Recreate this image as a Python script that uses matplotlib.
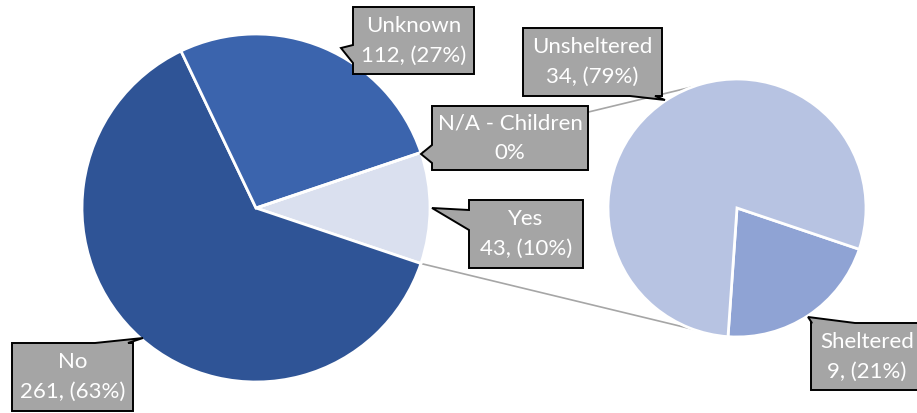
import matplotlib.pyplot as plt
from matplotlib.patches import Polygon
import numpy as np

# main pie
main_labels = ["Yes", "No", "Unknown", "N/A - Children"]
main_values = [43, 261, 112, 0]
main_colors = ["#DAE0EF", "#2F5496", "#3B64AD", "#7F95C8"]

# secondary pie (split of "Yes")
sub_labels = ["Sheltered", "Unsheltered"]
sub_values = [9, 34]
sub_colors = ["#8FA3D4", "#B7C3E2"]

W, H = 917, 413
fig = plt.figure(figsize=(W / 100, H / 100), dpi=100)
ax = fig.add_axes([0, 0, 1, 1])

def Y(y):
    # layout is measured top-down in pixels
    return H - y

main_c = (256, Y(208))
main_r = 174
sub_c = (737, Y(208))
sub_r = 129

total = sum(main_values)
start = 180 * main_values[0] / total
ax.pie(main_values, colors=main_colors, center=main_c, radius=main_r,
       startangle=start, counterclock=False,
       wedgeprops=dict(edgecolor="white", linewidth=2))
ax.pie(sub_values, colors=sub_colors, center=sub_c, radius=sub_r,
       startangle=-94, counterclock=True,
       wedgeprops=dict(edgecolor="white", linewidth=2))

# connector lines from the "Yes" wedge to the second pie
for sgn in (1, -1):
    a1 = np.radians(sgn * start)
    a2 = np.radians(sgn * 110)
    ax.plot([main_c[0] + main_r * np.cos(a1), sub_c[0] + sub_r * np.cos(a2)],
            [main_c[1] + main_r * np.sin(a1), sub_c[1] + sub_r * np.sin(a2)],
            color="#A6A6A6", lw=1.2, zorder=0.5)

def fmt(lab, v, tot):
    if v == 0:
        return lab, "0%"
    return lab, f"{v}, ({round(100 * v / tot)}%)"

def callout(box, side, b0, b1, tip, lines):
    x0, y0, x1, y1 = box
    tl, tr, br, bl = (x0, y0), (x1, y0), (x1, y1), (x0, y1)
    pts = [tl]
    if side == "top":
        pts += [(b0, y0), tip, (b1, y0)]
    pts.append(tr)
    if side == "right":
        pts += [(x1, b0), tip, (x1, b1)]
    pts.append(br)
    if side == "bottom":
        pts += [(b1, y1), tip, (b0, y1)]
    pts.append(bl)
    if side == "left":
        pts += [(x0, b1), tip, (x0, b0)]
    pts = [(px, Y(py)) for px, py in pts]
    ax.add_patch(Polygon(pts, closed=True, facecolor="#A5A5A5",
                         edgecolor="black", lw=1.4, zorder=3, clip_on=False))
    cx = (x0 + x1) / 2
    cy = (y0 + y1) / 2
    for i, t in enumerate(lines):
        ax.text(cx, Y(cy - 15 + 30 * i), t, ha="center", va="center",
                color="white", fontsize=16, family="Lato", zorder=4)

vals = dict(zip(main_labels, main_values))
sub = dict(zip(sub_labels, sub_values))

callout((353, 7, 474, 74), "left", 45, 63, (341, 48),
        fmt("Unknown", vals["Unknown"], total))
callout((432, 106, 588, 170), "left", 145, 163, (421, 154),
        fmt("N/A - Children", vals["N/A - Children"], total))
callout((469, 200, 583, 268), "left", 210, 230, (432, 208),
        fmt("Yes", vals["Yes"], total))
callout((12, 343, 133, 411), "top", 95, 128, (143, 338),
        fmt("No", vals["No"], total))
callout((523, 28, 662, 96), "bottom", 630, 655, (665, 100),
        fmt("Unsheltered", sub["Unsheltered"], sum(sub_values)))
callout((811, 323, 923, 390), "top", 812, 855, (808, 317),
        fmt("Sheltered", sub["Sheltered"], sum(sub_values)))

ax.set_xlim(0, W)
ax.set_ylim(0, H)
ax.set_aspect("equal")
ax.axis("off")

fig.savefig("out.png", dpi=100)
